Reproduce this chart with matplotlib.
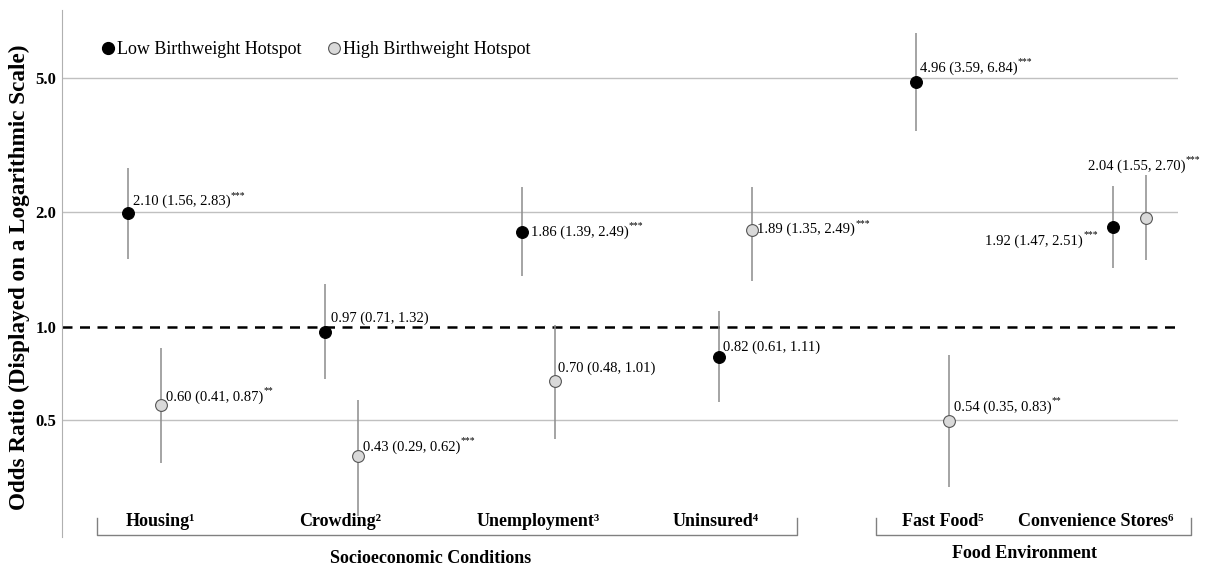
import numpy as np
import matplotlib
matplotlib.use("Agg")
import matplotlib.pyplot as plt
from matplotlib.lines import Line2D
import matplotlib.transforms as mtransforms

plt.rcParams['font.family'] = ['Liberation Serif', 'DejaVu Serif']

# data
categories = ['Housing¹', 'Crowding²', 'Unemployment³', 'Uninsured⁴',
              'Fast Food⁵', 'Convenience Stores⁶']
low_or = [2.10, 0.97, 1.86, 0.82, 4.96, 1.92]
low_lo = [1.56, 0.71, 1.39, 0.61, 3.59, 1.47]
low_hi = [2.83, 1.32, 2.49, 1.11, 6.84, 2.51]
low_sig = ['***', '', '***', '', '***', '***']
high_or = [0.60, 0.43, 0.70, 1.89, 0.54, 2.04]
high_lo = [0.41, 0.29, 0.48, 1.35, 0.35, 1.55]
high_hi = [0.87, 0.62, 1.01, 2.49, 0.83, 2.70]
high_sig = ['**', '***', '', '***', '**', '***']
groups = ['Socioeconomic Conditions', 'Food Environment']
# gridline positions as drawn in the original, with their labels
ytick_pos = [0.543, 1.0, 2.12, 5.09]
ytick_lab = ['0.5', '1.0', '2.0', '5.0']

# label offsets in pixels (dx, dy, ha)
low_off = [(5, 12, 'left'), (6, 13, 'left'), (9, 0, 'left'), (4, 10, 'left'),
           (4, 14, 'left'), (-17, -14, 'right')]
high_off = [(5, 8, 'left'), (5, 9, 'left'), (3, 13, 'left'), (5, 0, 'left'),
            (5, 14, 'left'), (-58, 52, 'left')]

fig = plt.figure(figsize=(12.14, 5.66), dpi=100)
ax = fig.add_axes([0.0511, 0.0512, 0.9193, 0.9311])
ax.set_yscale('log')
ax.set_ylim(0.253, 7.94)
ax.set_xlim(-0.419, 5.246)

x = np.arange(len(categories))
dx = 0.084
grey = '#8c8c8c'

for yv in ytick_pos:
    if yv == 1.0:
        continue
    ax.axhline(yv, color='#c0c0c0', lw=1, zorder=0)
ax.axhline(1.0, color='black', lw=1.8, ls=(0, (4, 3)), zorder=1)

def draw(xs, orv, lo, hi, face, edge):
    orv = np.array(orv); lo = np.array(lo); hi = np.array(hi)
    ax.errorbar(xs, orv, yerr=[orv - lo, hi - orv], fmt='none', ecolor=grey,
                elinewidth=1.1, capsize=0, zorder=2)
    ax.plot(xs, orv, 'o', ms=8.5, mfc=face, mec=edge, mew=0.8, zorder=3)

draw(x - dx, low_or, low_lo, low_hi, 'black', 'black')
draw(x + dx, high_or, high_lo, high_hi, '#d9d9d9', '#555555')

def label(xv, v, lo, hi, sig, off):
    t = ax.annotate('%.2f (%.2f, %.2f)' % (v, lo, hi), xy=(xv, v),
                    xytext=(off[0], off[1]), textcoords='offset pixels',
                    ha=off[2], va='center', fontsize=10.5, zorder=4)
    if sig:
        if off[2] == 'right':
            t.set_position((off[0] - 13, off[1]))
        ax.annotate(sig, xy=(1.0, 0.95), xycoords=t, ha='left', va='center',
                    fontsize=7, zorder=4)

for i in range(len(categories)):
    label(x[i] - dx, low_or[i], low_lo[i], low_hi[i], low_sig[i], low_off[i])
    label(x[i] + dx, high_or[i], high_lo[i], high_hi[i], high_sig[i], high_off[i])

ax.set_yticks(ytick_pos)
ax.set_yticklabels(ytick_lab, fontweight='bold', fontsize=12)
ax.yaxis.set_minor_locator(matplotlib.ticker.NullLocator())
ax.tick_params(axis='y', length=0, pad=4)
ax.set_xticks([])
for s in ['top', 'right', 'bottom']:
    ax.spines[s].set_visible(False)
ax.spines['left'].set_color('#b0b0b0')
ax.set_ylabel('Odds Ratio (Displayed on a Logarithmic Scale)', fontsize=16.7,
              fontweight='bold')
ax.yaxis.set_label_coords(-0.0285, 0.492)

# category labels and brackets
trans = mtransforms.blended_transform_factory(ax.transData, ax.transAxes)
cat_x = [0.08, 0.995, 2.0, 2.9, 4.05, 4.83]
for cx, c in zip(cat_x, categories):
    ax.text(cx, 0.03, c, transform=trans, ha='center', va='center',
            fontsize=13, fontweight='bold')

br = [(-0.241, 3.312, 1.454, -0.040), (3.713, 5.312, 4.465, -0.031)]
for (a, b, mid, ty), g in zip(br, groups):
    ax.plot([a, a, b, b], [0.036, 0.004, 0.004, 0.036], color='#808080', lw=1,
            transform=trans, clip_on=False)
    ax.text(mid, ty, g, transform=trans, ha='center', va='center',
            fontsize=13, fontweight='bold')

handles = [Line2D([], [], marker='o', ls='none', ms=8.5, mfc='black', mec='black'),
           Line2D([], [], marker='o', ls='none', ms=8.5, mfc='#d9d9d9', mec='#555555', mew=0.8)]
ax.legend(handles, ['Low Birthweight Hotspot', 'High Birthweight Hotspot'],
          loc='upper left', bbox_to_anchor=(0.028, 0.955), ncol=2, frameon=False,
          fontsize=13, handlelength=0.8, handletextpad=0.1, columnspacing=1.4,
          borderaxespad=0)

fig.savefig('out.png', dpi=100)
